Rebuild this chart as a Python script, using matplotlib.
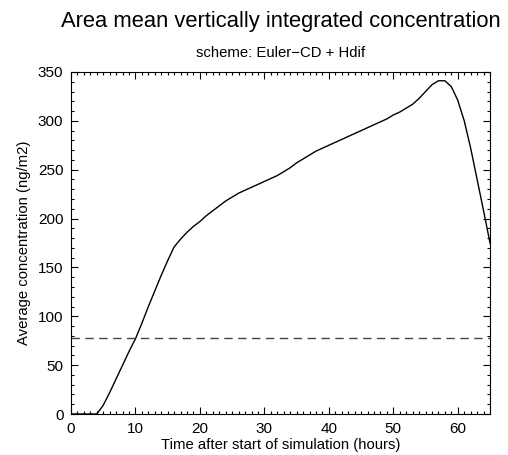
import matplotlib
matplotlib.use("Agg")
import matplotlib.pyplot as plt
from matplotlib.ticker import MultipleLocator

hours = list(range(0, 66))
conc = [0, 0, 0, 0, 0, 9, 22, 36, 50, 64, 77, 93, 110, 126, 142, 157, 171,
        179, 186, 192, 197, 203, 208, 213, 218, 222, 226, 229, 232, 235, 238,
        241, 244, 248, 252, 257, 261, 265, 269, 272, 275, 278, 281, 284, 287,
        290, 293, 296, 299, 302, 306, 309, 313, 317, 323, 330, 337, 341, 341,
        335, 321, 300, 272, 240, 208, 175]
threshold = 78

plt.rcParams['font.family'] = ['Liberation Sans', 'DejaVu Sans']
fig = plt.figure(figsize=(5.08, 4.55), dpi=100)
ax = fig.add_axes([0.1398, 0.0901, 0.8248, 0.7517])
ax.plot(hours, conc, color='black', lw=1.0)
ax.axhline(threshold, color='#444444', lw=1.0, ls=(0, (6, 4)))
ax.set_xlim(0, 65)
ax.set_ylim(0, 350)
ax.xaxis.set_major_locator(MultipleLocator(10))
ax.xaxis.set_minor_locator(MultipleLocator(1))
ax.yaxis.set_major_locator(MultipleLocator(50))
ax.yaxis.set_minor_locator(MultipleLocator(10))
ax.tick_params(which='both', direction='in', top=True, right=True, labelsize=11)
ax.tick_params(which='major', length=5, width=0.8)
ax.tick_params(which='minor', length=2.5, width=0.8)
ax.tick_params(axis='y', which='major', pad=5.5)
ax.tick_params(axis='x', which='major', pad=6)
ax.set_xlabel('Time after start of simulation (hours)', fontsize=10.7, labelpad=1)
ax.set_ylabel('Average concentration (ng/m2)', fontsize=10.7, labelpad=5)
fig.text(0.553, 1 - 27 / 455, 'Area mean vertically integrated concentration', ha='center', va='baseline', fontsize=15.8)
fig.text(0.552, 1 - 57 / 455, 'scheme: Euler\u2212CD + Hdif', ha='center', va='baseline', fontsize=10.7)
fig.savefig('out.png', dpi=100)
